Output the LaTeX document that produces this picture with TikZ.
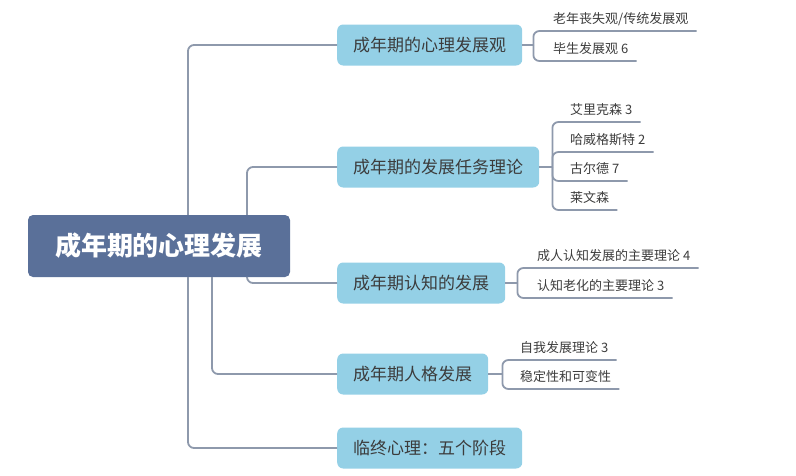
\documentclass[tikz,border=0pt]{standalone}
\usepackage{fontspec}
\usepackage{xcolor}
\usepackage{tikz}
\usetikzlibrary{positioning,calc}
\newfontfamily\cjk{Noto Sans CJK SC}
\definecolor{rootblue}{HTML}{5A7099}
\definecolor{topicblue}{HTML}{94D0E6}
\definecolor{linegray}{HTML}{8E99AC}
\definecolor{textgray}{HTML}{3C3C3C}

\begin{document}
\begin{tikzpicture}[
  x=1pt, y=-1pt,
  rootbox/.style={fill=rootblue, rounded corners=5pt, minimum width=262pt, minimum height=62pt,
    text=white, font=\cjk\bfseries\fontsize{26}{28}\selectfont},
  topic/.style={fill=topicblue, rounded corners=6pt, minimum height=41pt, inner xsep=16pt,
    anchor=west, text=textgray, font=\cjk\fontsize{17}{19}\selectfont},
  leaf/.style={anchor=south west, inner xsep=8pt, inner ysep=5pt, text height=10pt, text depth=2pt,
    text=textgray, font=\cjk\fontsize{13}{15}\selectfont},
  conn/.style={draw=linegray, line width=1.8pt, rounded corners=6pt}
]
\useasboundingbox (0,0) rectangle (796,475);
\node[rootbox] (root) at (159,246) {成年期的心理发展};

\node[topic] (t1) at (337,45) {成年期的心理发展观};
\node[topic] (t2) at (337,167) {成年期的发展任务理论};
\node[topic] (t3) at (337,283) {成年期认知的发展};
\node[topic] (t4) at (337,374) {成年期人格发展};
\node[topic] (t5) at (337,448) {临终心理：五个阶段};

\draw[conn] ([xshift=29pt]root.north) |- (t1.west);
\draw[conn] ([xshift=88pt]root.north) |- (t2.west);
\draw[conn] ([xshift=88pt]root.south) |- (t3.west);
\draw[conn] ([xshift=53pt]root.south) |- (t4.west);
\draw[conn] ([xshift=29pt]root.south) |- (t5.west);

\node[leaf] (c11) at (545,31) {老年丧失观/传统发展观};
\node[leaf] (c12) at (545,61) {毕生发展观 6};
\node[leaf] (c21) at (562,122) {艾里克森 3};
\node[leaf] (c22) at (562,152) {哈威格斯特 2};
\node[leaf] (c23) at (562,181) {古尔德 7};
\node[leaf] (c24) at (562,210) {莱文森};
\node[leaf] (c31) at (529,268) {成人认知发展的主要理论 4};
\node[leaf] (c32) at (529,298) {认知老化的主要理论 3};
\node[leaf] (c41) at (512,360) {自我发展理论 3};
\node[leaf] (c42) at (512,389) {稳定性和可变性};

\draw[conn] (t1.east) -- ++(11pt,0) coordinate (b1);
\draw[conn] (b1) |- (c11.south east);
\draw[conn] (b1) |- (c12.south east);
\draw[conn] (t2.east) -- ++(13pt,0) coordinate (b2);
\draw[conn] (b2) |- (c21.south east);
\draw[conn] (b2) |- (c22.south east);
\draw[conn] (b2) |- (c23.south east);
\draw[conn] (b2) |- (c24.south east);
\draw[conn] (t3.east) -- ++(12pt,0) coordinate (b3);
\draw[conn] (b3) |- (c31.south east);
\draw[conn] (b3) |- (c32.south east);
\draw[conn] (t4.east) -- ++(14pt,0) coordinate (b4);
\draw[conn] (b4) |- (c41.south east);
\draw[conn] (b4) |- (c42.south east);
\end{tikzpicture}
\end{document}
